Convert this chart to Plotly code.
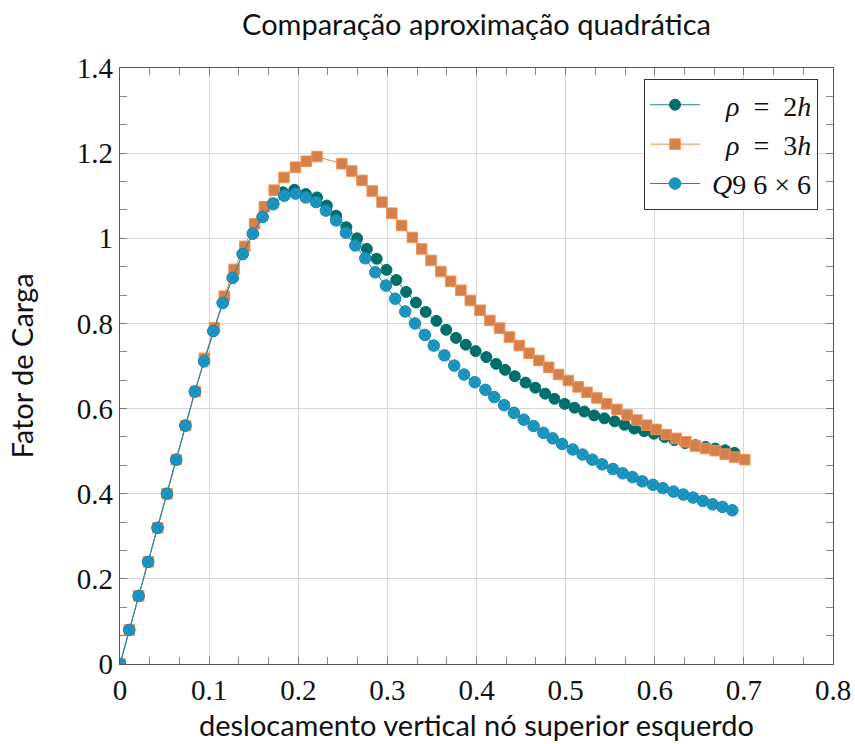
import plotly.graph_objects as go

# Load factor vs. vertical displacement of the upper-left node
x_rho2h = [0, 0.0104, 0.0209, 0.0316, 0.0421, 0.0526, 0.063, 0.0734, 0.084,
           0.0943, 0.1047, 0.1152, 0.1264, 0.1376, 0.149, 0.160, 0.172,
           0.183, 0.1957, 0.2085, 0.221, 0.232, 0.2425, 0.254, 0.266, 0.277,
           0.288, 0.299, 0.310, 0.321, 0.332, 0.343, 0.355, 0.366, 0.377,
           0.388, 0.399, 0.411, 0.422, 0.432, 0.443, 0.455, 0.466, 0.477,
           0.4875, 0.499, 0.510, 0.521, 0.532, 0.5435, 0.555, 0.566, 0.577,
           0.588, 0.599, 0.611, 0.622, 0.634, 0.6455, 0.657, 0.668, 0.679,
           0.6895]
y_rho2h = [0, 0.08, 0.16, 0.24, 0.32, 0.40, 0.48, 0.56, 0.64,
           0.711, 0.782, 0.848, 0.907, 0.963, 1.011, 1.050, 1.082,
           1.108, 1.114, 1.104, 1.096, 1.077, 1.053, 1.026, 1.000, 0.975,
           0.952, 0.926, 0.902, 0.874, 0.849, 0.827, 0.806, 0.785, 0.766,
           0.750, 0.735, 0.721, 0.705, 0.691, 0.676, 0.661, 0.649, 0.635,
           0.623, 0.611, 0.602, 0.593, 0.584, 0.577, 0.570, 0.562, 0.553,
           0.547, 0.541, 0.533, 0.526, 0.519, 0.514, 0.510, 0.506, 0.502,
           0.496]

x_rho3h = [0, 0.0105, 0.021, 0.0318, 0.0423, 0.0528, 0.0632, 0.0737, 0.0846,
           0.0947, 0.106, 0.117, 0.128, 0.140, 0.151, 0.162, 0.173, 0.184,
           0.197, 0.209, 0.221, 0.249, 0.260, 0.2715, 0.283, 0.294, 0.305,
           0.316, 0.328, 0.3385, 0.349, 0.360, 0.371, 0.3825, 0.393, 0.404,
           0.415, 0.426, 0.437, 0.448, 0.459, 0.470, 0.481, 0.492, 0.503,
           0.514, 0.524, 0.535, 0.546, 0.5575, 0.569, 0.580, 0.591, 0.6015,
           0.613, 0.624, 0.635, 0.6455, 0.657, 0.668, 0.679, 0.6895, 0.701]
y_rho3h = [0, 0.08, 0.16, 0.24, 0.32, 0.40, 0.48, 0.56, 0.64,
           0.718, 0.790, 0.864, 0.927, 0.981, 1.034, 1.074, 1.113, 1.143,
           1.167, 1.181, 1.192, 1.175, 1.158, 1.136, 1.111, 1.085, 1.059,
           1.030, 1.002, 0.975, 0.948, 0.922, 0.899, 0.878, 0.854, 0.831,
           0.807, 0.789, 0.768, 0.748, 0.730, 0.713, 0.697, 0.680, 0.666,
           0.651, 0.638, 0.625, 0.611, 0.598, 0.585, 0.573, 0.561, 0.551,
           0.539, 0.530, 0.522, 0.512, 0.506, 0.501, 0.493, 0.486, 0.480]

x_q9 = [0, 0.0104, 0.0209, 0.0316, 0.0421, 0.0526, 0.063, 0.0734, 0.084,
        0.0943, 0.1047, 0.1152, 0.1264, 0.1376, 0.149, 0.160, 0.172, 0.1845,
        0.197, 0.2085, 0.220, 0.231, 0.2425, 0.2535, 0.264, 0.2752, 0.2864,
        0.2984, 0.3088, 0.320, 0.331, 0.342, 0.352, 0.364, 0.375, 0.386,
        0.398, 0.410, 0.420, 0.431, 0.442, 0.453, 0.464, 0.475, 0.4855,
        0.496, 0.508, 0.519, 0.530, 0.541, 0.553, 0.564, 0.575, 0.586,
        0.598, 0.609, 0.621, 0.632, 0.643, 0.654, 0.665, 0.676, 0.687]
y_q9 = [0, 0.08, 0.16, 0.24, 0.32, 0.40, 0.48, 0.56, 0.64,
        0.711, 0.782, 0.848, 0.907, 0.963, 1.011, 1.050, 1.080, 1.100,
        1.105, 1.096, 1.085, 1.065, 1.042, 1.013, 0.983, 0.953, 0.920,
        0.889, 0.858, 0.828, 0.800, 0.773, 0.748, 0.725, 0.701, 0.680,
        0.662, 0.644, 0.627, 0.608, 0.590, 0.574, 0.559, 0.543, 0.530,
        0.517, 0.504, 0.492, 0.480, 0.469, 0.458, 0.448, 0.439, 0.429,
        0.421, 0.413, 0.405, 0.398, 0.391, 0.383, 0.375, 0.369, 0.361]

NB = "\u00a0"
series_names = [
    f"{NB * 3}<i>ρ</i>{NB}{NB}={NB}{NB}2<i>h</i>",
    f"{NB * 3}<i>ρ</i>{NB}{NB}={NB}{NB}3<i>h</i>",
    f"{NB}<i>Q</i>9{NB}6{NB}×{NB}6",
]

SERIF = "Liberation Serif, Times New Roman, serif"
SANS = "Lato, Open Sans, sans-serif"

fig = go.Figure()

fig.add_trace(go.Scatter(
    x=x_rho2h, y=y_rho2h, name=series_names[0], mode="lines+markers",
    line=dict(color="#1f8c86", width=1),
    marker=dict(symbol="circle", size=11, color="#006e69",
                line=dict(color="#006e69", width=1)),
))
fig.add_trace(go.Scatter(
    x=x_rho3h, y=y_rho3h, name=series_names[1], mode="lines+markers",
    line=dict(color="#f08a4b", width=1),
    marker=dict(symbol="square", size=10.5, color="#d4804c",
                line=dict(color="#f5904f", width=1)),
))
fig.add_trace(go.Scatter(
    x=x_q9, y=y_q9, name=series_names[2], mode="lines+markers",
    line=dict(color="#1787ae", width=1),
    marker=dict(symbol="circle-x", size=11.5, color="#1b98c4",
                line=dict(color="#1784ad", width=1)),
))

axis_common = dict(
    showline=True, linecolor="#555555", linewidth=1.2, mirror="allticks",
    ticks="inside", ticklen=7, tickwidth=1, tickcolor="#777777",
    showgrid=True, gridcolor="#d6d6d6", gridwidth=1,
    zeroline=False, automargin=False,
    tickfont=dict(family=SERIF, size=29, color="#111111"),
)

fig.update_xaxes(
    range=[0, 0.8], dtick=0.1, tick0=0,
    minor=dict(dtick=0.1 / 3, ticks="inside", ticklen=7, tickcolor="#888888",
               showgrid=False),
    title=dict(text="deslocamento vertical nó superior esquerdo",
               font=dict(family=SANS, size=29, color="#111111"), standoff=10),
    **axis_common,
)
fig.update_yaxes(
    range=[0, 1.4], dtick=0.2, tick0=0,
    minor=dict(dtick=0.2 / 3, ticks="inside", ticklen=7, tickcolor="#888888",
               showgrid=False),
    title=dict(text="Fator de Carga",
               font=dict(family=SANS, size=29, color="#111111"), standoff=34),
    **axis_common,
)

fig.update_layout(
    width=855, height=744,
    margin=dict(l=120, r=22, t=68, b=80),
    plot_bgcolor="white", paper_bgcolor="white",
    title=dict(text="Comparação aproximação quadrática",
               font=dict(family=SANS, size=29, color="#111111"),
               x=(120 + 833) / 2 / 855, xanchor="center",
               y=1 - 25 / 744, yanchor="middle"),
    legend=dict(
        x=0.979, y=0.9815, xanchor="right", yanchor="top",
        bgcolor="white", bordercolor="#333333", borderwidth=1,
        font=dict(family=SERIF, size=28, color="#111111"),
        itemwidth=50, tracegroupgap=0,
    ),
    showlegend=True,
)

fig.write_html("out.html")
